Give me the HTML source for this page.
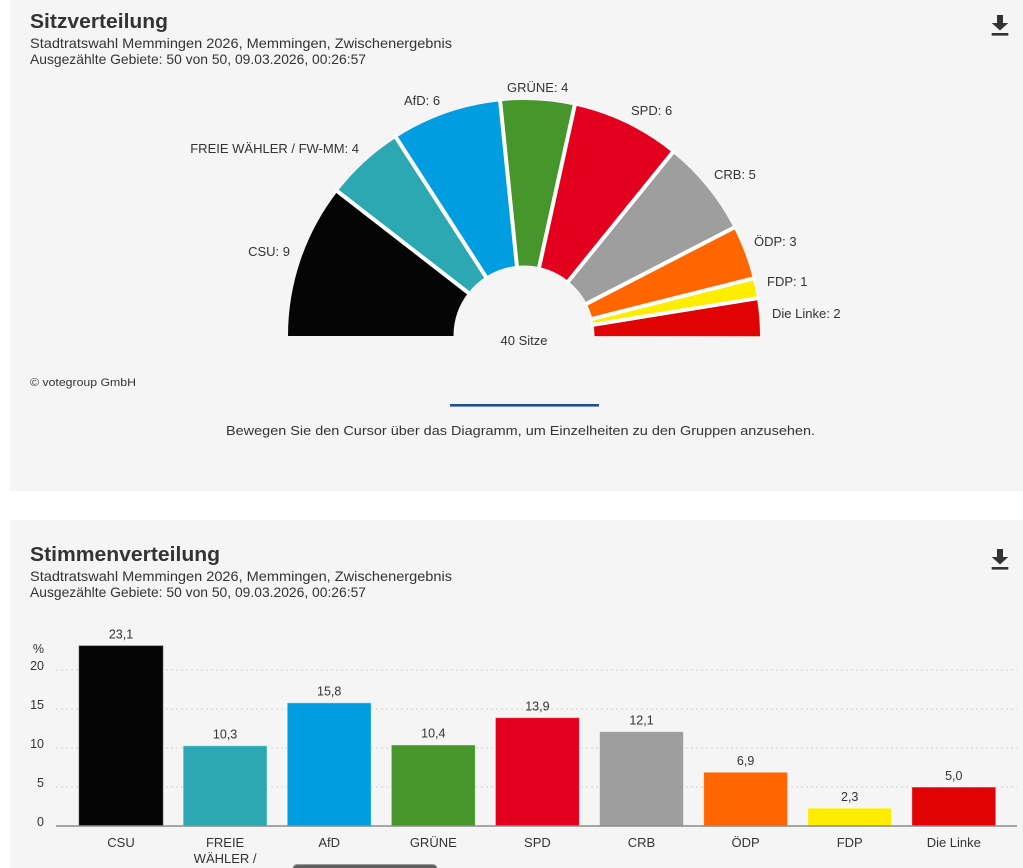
<!DOCTYPE html>
<html>
<head>
<meta charset="utf-8">
<style>
  html, body { margin:0; padding:0; background:#ffffff; }
  body { width:1023px; height:868px; overflow:hidden; }
  svg { display:block; }
  text { font-family: "Liberation Sans", "DejaVu Sans", sans-serif; fill:#333; }
</style>
</head>
<body>
<svg width="1023" height="868" viewBox="0 0 1023 868" xmlns="http://www.w3.org/2000/svg">
  <!-- Panels -->
  <rect x="10" y="0" width="1013" height="491" fill="#f5f5f5"/>
  <rect x="10" y="520" width="1013" height="348" fill="#f5f5f5"/>

  <!-- ===== Panel 1 header ===== -->
  <text x="30" y="28" font-size="20" font-weight="bold" fill="#222" textLength="138" lengthAdjust="spacingAndGlyphs">Sitzverteilung</text>
  <text x="30" y="48" font-size="14" textLength="422" lengthAdjust="spacingAndGlyphs">Stadtratswahl Memmingen 2026, Memmingen, Zwischenergebnis</text>
  <text x="30" y="64" font-size="14" textLength="336" lengthAdjust="spacingAndGlyphs">Ausgezählte Gebiete: 50 von 50, 09.03.2026, 00:26:57</text>

  <!-- download icon 1 -->
  <g fill="#333">
    <rect x="997" y="15" width="6" height="8.5"/>
    <polygon points="991.7,23 1008.3,23 1000,30.5"/>
    <rect x="991.7" y="33" width="16.6" height="2.6"/>
  </g>

  <!-- ===== Semicircle chart ===== -->
  <g transform="rotate(180 524 336)" fill="none" stroke-width="165.5">
    <circle cx="524" cy="336" r="153.25" stroke="#050505" stroke-dasharray="101.10 2000" stroke-dashoffset="0"/>
    <circle cx="524" cy="336" r="153.25" stroke="#2ba8b1" stroke-dasharray="51.89 2000" stroke-dashoffset="-101.10"/>
    <circle cx="524" cy="336" r="153.25" stroke="#009ee0" stroke-dasharray="72.22 2000" stroke-dashoffset="-152.99"/>
    <circle cx="524" cy="336" r="153.25" stroke="#46962b" stroke-dasharray="48.68 2000" stroke-dashoffset="-225.21"/>
    <circle cx="524" cy="336" r="153.25" stroke="#e3001f" stroke-dasharray="71.15 2000" stroke-dashoffset="-273.89"/>
    <circle cx="524" cy="336" r="153.25" stroke="#9e9e9e" stroke-dasharray="63.39 2000" stroke-dashoffset="-345.04"/>
    <circle cx="524" cy="336" r="153.25" stroke="#ff6600" stroke-dasharray="35.31 2000" stroke-dashoffset="-408.43"/>
    <circle cx="524" cy="336" r="153.25" stroke="#ffed00" stroke-dasharray="13.11 2000" stroke-dashoffset="-443.73"/>
    <circle cx="524" cy="336" r="153.25" stroke="#df0303" stroke-dasharray="24.61 2000" stroke-dashoffset="-456.84"/>
  </g>
  <rect x="280" y="336.5" width="490" height="3" fill="#f5f5f5"/>
  <!-- white separators -->
  <g stroke="#ffffff" stroke-width="4">
    <line x1="285" y1="336" x2="456" y2="336" transform="rotate(37.8 524 336)"/>
    <line x1="285" y1="336" x2="456" y2="336" transform="rotate(57.2 524 336)"/>
    <line x1="285" y1="336" x2="456" y2="336" transform="rotate(84.2 524 336)"/>
    <line x1="285" y1="336" x2="456" y2="336" transform="rotate(102.4 524 336)"/>
    <line x1="285" y1="336" x2="456" y2="336" transform="rotate(129 524 336)"/>
    <line x1="285" y1="336" x2="456" y2="336" transform="rotate(152.7 524 336)"/>
    <line x1="285" y1="336" x2="456" y2="336" transform="rotate(165.9 524 336)"/>
    <line x1="285" y1="336" x2="456" y2="336" transform="rotate(170.8 524 336)"/>
  </g>

  <!-- pie labels -->
  <g font-size="13">
    <text x="404" y="105">AfD: 6</text>
    <text x="507" y="92">GRÜNE: 4</text>
    <text x="631" y="115">SPD: 6</text>
    <text x="359" y="153" text-anchor="end">FREIE WÄHLER / FW-MM: 4</text>
    <text x="714" y="179">CRB: 5</text>
    <text x="290" y="256" text-anchor="end">CSU: 9</text>
    <text x="754" y="246">ÖDP: 3</text>
    <text x="767" y="286">FDP: 1</text>
    <text x="772" y="318">Die Linke: 2</text>
    <text x="524" y="345" text-anchor="middle">40 Sitze</text>
  </g>

  <text x="30" y="386" font-size="11" textLength="106" lengthAdjust="spacingAndGlyphs">© votegroup GmbH</text>
  <rect x="450" y="404" width="149" height="2.6" fill="#1d4f91"/>
  <text x="226" y="435" font-size="13" textLength="589" lengthAdjust="spacingAndGlyphs">Bewegen Sie den Cursor über das Diagramm, um Einzelheiten zu den Gruppen anzusehen.</text>

  <!-- ===== Panel 2 header ===== -->
  <text x="30" y="561" font-size="20" font-weight="bold" fill="#222" textLength="190" lengthAdjust="spacingAndGlyphs">Stimmenverteilung</text>
  <text x="30" y="581" font-size="14" textLength="422" lengthAdjust="spacingAndGlyphs">Stadtratswahl Memmingen 2026, Memmingen, Zwischenergebnis</text>
  <text x="30" y="597" font-size="14" textLength="336" lengthAdjust="spacingAndGlyphs">Ausgezählte Gebiete: 50 von 50, 09.03.2026, 00:26:57</text>

  <!-- download icon 2 -->
  <g fill="#333" transform="translate(0 534)">
    <rect x="997" y="15" width="6" height="8.5"/>
    <polygon points="991.7,23 1008.3,23 1000,30.5"/>
    <rect x="991.7" y="33" width="16.6" height="2.6"/>
  </g>

  <!-- gridlines -->
  <g stroke="#d4d4d4" stroke-width="1" stroke-dasharray="2 3">
    <line x1="56" y1="670" x2="1017" y2="670"/>
    <line x1="56" y1="709" x2="1017" y2="709"/>
    <line x1="56" y1="748" x2="1017" y2="748"/>
    <line x1="56" y1="787" x2="1017" y2="787"/>
  </g>

  <!-- y tick labels -->
  <g font-size="12.5" text-anchor="end">
    <text x="44" y="653">%</text>
    <text x="44" y="670">20</text>
    <text x="44" y="709">15</text>
    <text x="44" y="748">10</text>
    <text x="44" y="787">5</text>
    <text x="44" y="826">0</text>
  </g>

  <!-- bars -->
  <g stroke="#ffffff" stroke-opacity="0.5" stroke-width="1">
    <rect x="79" y="645.8" width="84" height="180.2" fill="#050505" stroke="#555"/>
    <rect x="183.1" y="745.7" width="84" height="80.3" fill="#2ba8b1"/>
    <rect x="287.2" y="702.8" width="84" height="123.2" fill="#009ee0"/>
    <rect x="391.3" y="744.9" width="84" height="81.1" fill="#46962b"/>
    <rect x="495.4" y="717.6" width="84" height="108.4" fill="#e3001f"/>
    <rect x="599.5" y="731.6" width="84" height="94.4" fill="#9e9e9e"/>
    <rect x="703.6" y="772.2" width="84" height="53.8" fill="#ff6600"/>
    <rect x="807.7" y="808.1" width="84" height="17.9" fill="#ffed00"/>
    <rect x="911.8" y="787" width="84" height="39" fill="#df0303"/>
  </g>

  <!-- axis line -->
  <line x1="56" y1="826" x2="1017" y2="826" stroke="#8c8c8c" stroke-width="1.5"/>

  <!-- value labels -->
  <g font-size="12.5" text-anchor="middle">
    <text x="121" y="638.5">23,1</text>
    <text x="225.1" y="738.5">10,3</text>
    <text x="329.2" y="695.5">15,8</text>
    <text x="433.3" y="737.5">10,4</text>
    <text x="537.4" y="710.5">13,9</text>
    <text x="641.5" y="724.5">12,1</text>
    <text x="745.6" y="765">6,9</text>
    <text x="849.7" y="801">2,3</text>
    <text x="953.8" y="780">5,0</text>
  </g>

  <!-- category labels -->
  <g font-size="13" text-anchor="middle">
    <text x="121" y="847">CSU</text>
    <text x="225.1" y="847">FREIE</text>
    <text x="225.1" y="863">WÄHLER /</text>
    <text x="329.2" y="847">AfD</text>
    <text x="433.3" y="847">GRÜNE</text>
    <text x="537.4" y="847">SPD</text>
    <text x="641.5" y="847">CRB</text>
    <text x="745.6" y="847">ÖDP</text>
    <text x="849.7" y="847">FDP</text>
    <text x="953.8" y="847">Die Linke</text>
  </g>

  <!-- tooltip edge at bottom -->
  <rect x="293" y="864.5" width="144" height="10" rx="4" ry="4" fill="#5e5e5e" stroke="#9a9a9a" stroke-width="1"/>
</svg>
</body>
</html>
